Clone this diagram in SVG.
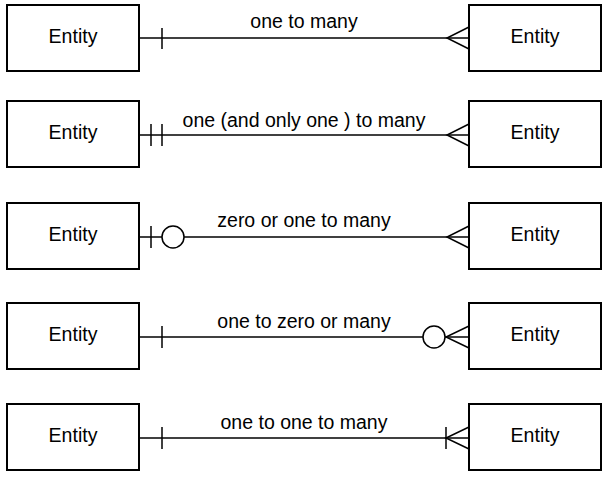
<svg xmlns="http://www.w3.org/2000/svg" width="607" height="477" viewBox="0 0 607 477">
<style>
.box{fill:#fff;stroke:#000;stroke-width:2}
.t{font-family:"Liberation Sans",Arial,sans-serif;font-size:19.5px;fill:#000;text-anchor:middle}
.c{fill:none;stroke:#000;stroke-width:1.5}
.ci{fill:#fff;stroke:#000;stroke-width:1.5}
</style>
<rect width="607" height="477" fill="#fff"/>
<g id="connectors">
<g id="c1">
<line class="c" x1="139" y1="38" x2="469" y2="38"/>
<line class="c" x1="162" y1="28" x2="162" y2="49"/>
<path class="c" d="M469,27 L447,38 L469,49"/>
<text class="t" x="304" y="28">one to many</text>
</g>
<g id="c2">
<line class="c" x1="139" y1="135" x2="469" y2="135"/>
<line class="c" x1="151" y1="124" x2="151" y2="146"/>
<line class="c" x1="162" y1="124" x2="162" y2="146"/>
<path class="c" d="M469,124 L447,135 L469,146"/>
<text class="t" x="304" y="127">one (and only one ) to many</text>
</g>
<g id="c3">
<line class="c" x1="139" y1="237" x2="469" y2="237"/>
<line class="c" x1="151" y1="226" x2="151" y2="248"/>
<circle class="ci" cx="173" cy="237" r="11"/>
<path class="c" d="M469,226 L447,237 L469,248"/>
<text class="t" x="304" y="227">zero or one to many</text>
</g>
<g id="c4">
<line class="c" x1="139" y1="337" x2="469" y2="337"/>
<line class="c" x1="162" y1="326" x2="162" y2="348"/>
<path class="c" d="M469,326 L446,337 L469,348"/>
<circle class="ci" cx="434" cy="337" r="11"/>
<text class="t" x="304" y="328">one to zero or many</text>
</g>
<g id="c5">
<line class="c" x1="139" y1="438" x2="469" y2="438"/>
<line class="c" x1="162" y1="427" x2="162" y2="449"/>
<line class="c" x1="446" y1="427" x2="446" y2="449"/>
<path class="c" d="M469,427 L446,438 L469,449"/>
<text class="t" x="304" y="429">one to one to many</text>
</g>
</g>
<g id="e1l"><rect class="box" x="7" y="5" width="132" height="66"/><text class="t" x="73" y="43">Entity</text></g>
<g id="e1r"><rect class="box" x="469" y="5" width="132" height="66"/><text class="t" x="535" y="43">Entity</text></g>
<g id="e2l"><rect class="box" x="7" y="101" width="132" height="66"/><text class="t" x="73" y="139">Entity</text></g>
<g id="e2r"><rect class="box" x="469" y="101" width="132" height="66"/><text class="t" x="535" y="139">Entity</text></g>
<g id="e3l"><rect class="box" x="7" y="203" width="132" height="66"/><text class="t" x="73" y="241">Entity</text></g>
<g id="e3r"><rect class="box" x="469" y="203" width="132" height="66"/><text class="t" x="535" y="241">Entity</text></g>
<g id="e4l"><rect class="box" x="7" y="303" width="132" height="66"/><text class="t" x="73" y="341">Entity</text></g>
<g id="e4r"><rect class="box" x="469" y="303" width="132" height="66"/><text class="t" x="535" y="341">Entity</text></g>
<g id="e5l"><rect class="box" x="7" y="404" width="132" height="66"/><text class="t" x="73" y="442">Entity</text></g>
<g id="e5r"><rect class="box" x="469" y="404" width="132" height="66"/><text class="t" x="535" y="442">Entity</text></g>
</svg>
